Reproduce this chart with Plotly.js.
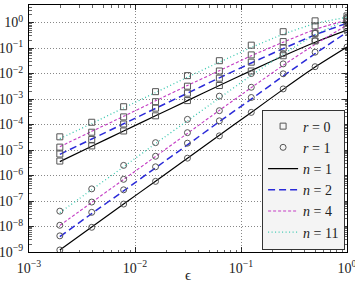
<!DOCTYPE html>
<html>
<head>
<meta charset="utf-8">
<script src="https://cdn.plot.ly/plotly-3.0.1.min.js"></script>
<style>
html,body{margin:0;padding:0;background:#fff;}
#chart{width:355px;height:285px;}
</style>
</head>
<body>
<div id="chart"></div>
<script>
// epsilon values
var eps = [0.001953125, 0.00390625, 0.0078125, 0.015625, 0.03125, 0.0625, 0.125, 0.25, 0.5, 1];

// measured errors, r = 0 (squares)
var r0_n1  = [3.7e-6, 1.45e-5, 5.6e-5, 2.2e-4, 8.7e-4, 3.4e-3, 1.26e-2, 5.0e-2, 0.19, 0.63];
var r0_n2  = [7.0e-6, 2.6e-5, 1.05e-4, 4.4e-4, 1.7e-3, 6.6e-3, 2.8e-2, 0.10, 0.38, 1.12];
var r0_n4  = [1.3e-5, 5.0e-5, 2.0e-4, 7.9e-4, 3.2e-3, 1.26e-2, 5.4e-2, 0.18, 0.74, 1.41];
var r0_n11 = [3.3e-5, 1.23e-4, 5.0e-4, 1.95e-3, 8.3e-3, 3.2e-2, 0.13, 0.44, 1.17, 1.82];

// measured errors, r = 1 (circles)
var r1_n1  = [1.2e-9, 9.3e-9, 7.6e-8, 5.9e-7, 4.8e-6, 3.6e-5, 3.0e-4, 2.5e-3, 1.86e-2, 0.11];
var r1_n2  = [4.3e-9, 3.6e-8, 2.75e-7, 2.2e-6, 1.86e-5, 1.4e-4, 1.15e-3, 9.8e-3, 6.9e-2, 0.45];
var r1_n4  = [1.12e-8, 9.1e-8, 7.1e-7, 5.7e-6, 4.8e-5, 3.5e-4, 2.9e-3, 2.4e-2, 0.195, 1.0];
var r1_n11 = [4.0e-8, 3.0e-7, 2.5e-6, 1.95e-5, 1.6e-4, 1.3e-3, 1.0e-2, 6.0e-2, 0.38, 1.41];

// estimate curves, r = 0
var est0_n1  = [3.5e-6, 1.4e-5, 5.6e-5, 2.2e-4, 8.7e-4, 3.4e-3, 1.3e-2, 4.9e-2, 0.17, 0.51];
var est0_n2  = [6.8e-6, 2.7e-5, 1.07e-4, 4.3e-4, 1.7e-3, 6.8e-3, 2.6e-2, 9.5e-2, 0.33, 0.95];
var est0_n4  = [1.35e-5, 5.4e-5, 2.1e-4, 8.5e-4, 3.4e-3, 1.3e-2, 5.0e-2, 0.17, 0.54, 1.26];
var est0_n11 = [2.8e-5, 1.1e-4, 4.5e-4, 1.8e-3, 7.2e-3, 2.8e-2, 0.105, 0.35, 0.91, 1.62];

// estimate curves, r = 1
var est1_n1  = [1.2e-9, 9.5e-9, 7.6e-8, 6.0e-7, 4.8e-6, 3.8e-5, 3.0e-4, 2.4e-3, 1.8e-2, 0.11];
var est1_n2  = [4.0e-9, 3.2e-8, 2.5e-7, 2.0e-6, 1.6e-5, 1.3e-4, 1.0e-3, 8.0e-3, 6.0e-2, 0.42];
var est1_n4  = [1.1e-8, 8.8e-8, 7.0e-7, 5.6e-6, 4.5e-5, 3.6e-4, 2.8e-3, 2.1e-2, 0.14, 0.80];
var est1_n11 = [3.5e-8, 2.8e-7, 2.2e-6, 1.8e-5, 1.4e-4, 1.1e-3, 8.5e-3, 5.8e-2, 0.33, 1.30];

var xLabel = 'ϵ';
var xTickVals = [0.001, 0.01, 0.1, 1];
var xTickText = ['10<sup>−3</sup>','10<sup>−2</sup>','10<sup>−1</sup>','10<sup>0</sup>'];
var yTickVals = [1e-9,1e-8,1e-7,1e-6,1e-5,1e-4,1e-3,1e-2,1e-1,1];
var yTickText = ['10<sup>−9</sup>','10<sup>−8</sup>','10<sup>−7</sup>','10<sup>−6</sup>','10<sup>−5</sup>',
                 '10<sup>−4</sup>','10<sup>−3</sup>','10<sup>−2</sup>','10<sup>−1</sup>','10<sup>0</sup>'];

// minor tick positions (2..9 times each decade)
function minorVals(lo, hi){
  var v = [];
  for (var e = lo; e <= hi; e++) for (var m = 2; m <= 9; m++) v.push(m * Math.pow(10, e));
  return v;
}

var lineStyles = {
  n1:  {color:'#000000', width:1.2, dash:'solid'},
  n2:  {color:'#2a2ad8', width:1.5, dash:'7px,4px'},
  n4:  {color:'#c43cc4', width:1.1, dash:'3px,2px'},
  n11: {color:'#3cc8b0', width:1.3, dash:'1px,2.5px'}
};
var markerColor = '#555555';

function lineTrace(y, key, name, show, rank){
  return {x:eps, y:y, mode:'lines', type:'scatter', name:name, showlegend:show,
    legendrank:rank, line:Object.assign({shape:'spline', smoothing:0.6}, lineStyles[key]),
    hoverinfo:'skip'};
}
function markTrace(y, sym, size, name, show, rank){
  return {x:eps, y:y, mode:'markers', type:'scatter', name:name, showlegend:show,
    legendrank:rank, marker:{symbol:sym, size:size, color:markerColor,
    line:{color:markerColor, width:1}}};
}

var data = [
  lineTrace(est0_n1,'n1','<i>n</i> = 1',true,3),
  lineTrace(est0_n2,'n2','<i>n</i> = 2',true,4),
  lineTrace(est0_n4,'n4','<i>n</i> = 4',true,5),
  lineTrace(est0_n11,'n11','<i>n</i> = 11',true,6),
  lineTrace(est1_n1,'n1','n1b',false,7),
  lineTrace(est1_n2,'n2','n2b',false,8),
  lineTrace(est1_n4,'n4','n4b',false,9),
  lineTrace(est1_n11,'n11','n11b',false,10),
  markTrace(r0_n1,'square-open',6,'<i>r</i> = 0',true,1),
  markTrace(r0_n2,'square-open',6,'s2',false,11),
  markTrace(r0_n4,'square-open',6,'s4',false,12),
  markTrace(r0_n11,'square-open',6,'s11',false,13),
  markTrace(r1_n1,'circle-open',6,'<i>r</i> = 1',true,2),
  markTrace(r1_n2,'circle-open',6,'c2',false,14),
  markTrace(r1_n4,'circle-open',6,'c4',false,15),
  markTrace(r1_n11,'circle-open',6,'c11',false,16)
];

var fontFam = 'Liberation Serif, DejaVu Serif, serif';
function axisCommon(minor){
  return {
    type:'log', showline:true, linecolor:'#000', linewidth:1, mirror:'ticks',
    ticks:'inside', ticklen:5, tickwidth:0.8, tickcolor:'#000',
    showgrid:true, gridcolor:'#888', griddash:'1px,2px', gridwidth:1,
    zeroline:false, tickmode:'array', ticklabeloverflow:'allow', automargin:false,
    tickfont:{family:fontFam, size:14, color:'#222'},
    minor:{tickmode:'array', tickvals:minor, ticks:'inside', ticklen:2.5, tickwidth:0.6,
           tickcolor:'#000', showgrid:false}
  };
}

var layout = {
  width:355, height:285,
  margin:{l:29, r:8, t:5, b:33, pad:0},
  paper_bgcolor:'#fff', plot_bgcolor:'#fff',
  showlegend:true,
  xaxis:Object.assign(axisCommon(minorVals(-3,-1)), {range:[-3,0], tickvals:xTickVals, ticktext:xTickText,
    ticklabelstandoff:3}),
  yaxis:Object.assign(axisCommon(minorVals(-9,0)), {range:[-9,0.69], tickvals:yTickVals, ticktext:yTickText,
    ticklabelstandoff:2}),
  annotations:[{text:xLabel, xref:'paper', yref:'paper', x:0.5, y:0, xanchor:'center', yanchor:'top',
    yshift:-13, showarrow:false, font:{family:fontFam, size:15, color:'#222'}}],
  legend:{x:0.994, y:0.01, xanchor:'right', yanchor:'bottom',
    bgcolor:'#f4f4f4', bordercolor:'#333', borderwidth:1,
    font:{family:fontFam, size:14, color:'#222'}, tracegroupgap:0, itemwidth:30,
    traceorder:'normal'}
};

Plotly.newPlot('chart', data, layout, {staticPlot:true, displayModeBar:false});
</script>
</body>
</html>
